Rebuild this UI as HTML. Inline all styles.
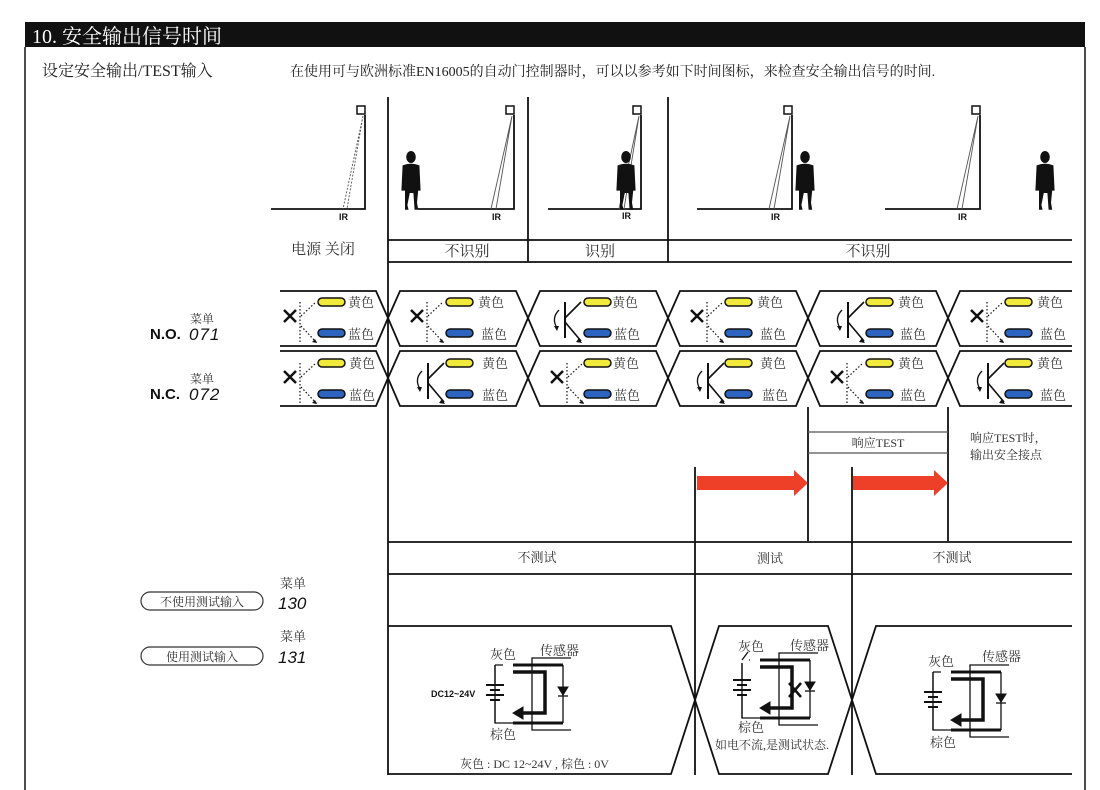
<!DOCTYPE html>
<html><head><meta charset="utf-8"><style>
html,body{margin:0;padding:0;background:#fff;}
svg{display:block;}
.s{font-family:"Liberation Serif","Noto Serif CJK SC",serif;}
.a{font-family:"Liberation Sans","Noto Sans CJK SC",sans-serif;}
</style></head><body>
<svg width="1100" height="790" viewBox="0 0 1100 790" xmlns="http://www.w3.org/2000/svg">
<defs>
<g id="pills">
 <rect x="0" y="-4" width="27" height="8" rx="4" fill="#f2ea3a" stroke="#111" stroke-width="1.5"/>
 <rect x="0" y="27" width="27" height="8" rx="4" fill="#2d64c0" stroke="#111" stroke-width="1.5"/>
</g>
<g id="off">
 <path d="M-6,-6 L6,6 M-6,6 L6,-6" stroke="#111" stroke-width="2.5"/>
 <path d="M10,-14 V26" stroke="#111" stroke-width="1.2" stroke-dasharray="1.5,2"/>
 <path d="M11,0 L26,-14 M11,10 L27,27" stroke="#111" stroke-width="1.2" stroke-dasharray="1.5,2"/>
 <path d="M27,27 l-5,-1 l3,-3z" fill="#111"/>
</g>
<g id="on">
 <path d="M10,-14 V22" stroke="#111" stroke-width="2"/>
 <path d="M10,2 L26,-14 M10,6 L26,25" stroke="#111" stroke-width="1.6"/>
 <path d="M27,27 l-6,-1 l3,-4z" fill="#111"/>
 <path d="M4,-6 Q-4,2 2,12" fill="none" stroke="#111" stroke-width="1.3"/>
 <path d="M2,15 l-3,-5 l5,0z" fill="#111"/>
</g>
<g id="person" fill="#111" transform="scale(1.2)">
 <ellipse cx="0" cy="-40" rx="4" ry="5"/>
 <path d="M-7,-33 Q0,-36 7,-33 L8,-12 L6,-12 L5,-2 L6,4 L3,4 L2,-10 L-1,-10 L-3,0 L-2,4 L-5,4 L-5,-12 L-8,-12 Z"/>
</g>
<g id="circ" fill="none" stroke="#111">
 <path d="M0,0 H8 M0,0 V58 H18" stroke-width="1.3"/>
 <path d="M18,0 H68 M18,58 H68" stroke-width="3"/>
 <path d="M68,0 V58" stroke-width="1.3"/>
 <path d="M63,22 h10 l-5,8z" fill="#111" stroke-width="1"/>
 <path d="M63,31 h10" stroke-width="1.3"/>
 <path d="M76,-7 H37 V65 H76" stroke-width="1.3"/>
 <path d="M18,7 H50 V48 H26" stroke-width="3.5"/>
 <path d="M18,48 l10,-6 v12z" fill="#111" stroke-width="1"/>
 <path d="M-9,20 H9 M-5,25 H5 M-9,30 H9 M-5,35 H5" stroke-width="2"/>
 <path d="M0,0 V20 M0,35 V58" stroke-width="1.3"/>
</g>
</defs>

<rect x="25" y="22" width="1060" height="25" fill="#111"/>
<text x="32" y="43" class="s" font-size="20" fill="#fff">10. 安全输出信号时间</text>
<line x1="25" y1="47" x2="25" y2="790" stroke="#111" stroke-width="1.5"/>
<line x1="1085" y1="47" x2="1085" y2="790" stroke="#111" stroke-width="1.5"/>
<text x="42" y="76" class="s" font-size="16" fill="#222">设定安全输出/TEST输入</text>
<text x="290" y="76" class="s" font-size="14" fill="#222">在使用可与欧洲标准EN16005的自动门控制器时，可以以参考如下时间图标，来检查安全输出信号的时间.</text>

<g stroke="#111" stroke-width="1.8">
<line x1="388" y1="97" x2="388" y2="775"/>
<line x1="528" y1="97" x2="528" y2="262"/>
<line x1="668" y1="97" x2="668" y2="262"/>
<line x1="808" y1="407" x2="808" y2="541"/>
<line x1="948" y1="407" x2="948" y2="541"/>
<line x1="695" y1="467" x2="695" y2="775"/>
<line x1="852" y1="467" x2="852" y2="775"/>
<line x1="388" y1="240" x2="1072" y2="240"/>
<line x1="388" y1="262" x2="1072" y2="262"/>
<line x1="388" y1="542" x2="1072" y2="542"/>
<line x1="388" y1="574" x2="1072" y2="574"/>
</g>
<g stroke="#555" stroke-width="1.3">
<line x1="808" y1="432" x2="948" y2="432"/>
<line x1="808" y1="453" x2="948" y2="453"/>
</g>

<g stroke="#111" stroke-width="1.8" fill="none">
<path d="M271,209 H365 V115"/><rect x="357" y="106" width="8" height="8" stroke-width="1.5"/>
<path d="M418,209 H514 V115"/><rect x="506" y="106" width="8" height="8" stroke-width="1.5"/>
<path d="M548,209 H641 V115"/><rect x="633" y="106" width="8" height="8" stroke-width="1.5"/>
<path d="M697,209 H792 V115"/><rect x="784" y="106" width="8" height="8" stroke-width="1.5"/>
<path d="M885,209 H980 V115"/><rect x="972" y="106" width="8" height="8" stroke-width="1.5"/>
</g>
<g stroke="#555" stroke-width="0.9" fill="none">
<path d="M363,116 L343,209 M363,116 L347,209" stroke-dasharray="2,1.5"/>
<path d="M512,116 L491,209 M512,116 L496,209"/>
<path d="M639,116 L619,209 M639,116 L624,209"/>
<path d="M790,116 L769,209 M790,116 L774,209"/>
<path d="M978,116 L957,209 M978,116 L962,209"/>
</g>
<g class="a" font-size="9" font-weight="bold" fill="#111">
<text x="339" y="220">IR</text><text x="492" y="220">IR</text><text x="622" y="219">IR</text><text x="771" y="220">IR</text><text x="958" y="220">IR</text>
</g>
<use href="#person" x="411" y="205"/>
<use href="#person" x="626" y="205"/>
<use href="#person" x="805" y="205"/>
<use href="#person" x="1045" y="205"/>

<g class="s" font-size="15" fill="#333" text-anchor="middle">
<text x="323" y="254">电源 关闭</text>
<text x="467" y="256">不识别</text>
<text x="600" y="256">识别</text>
<text x="868" y="256">不识别</text>
</g>

<g fill="none" stroke="#111" stroke-width="1.8">
<path d="M280,291 H376 L388,318 L376,346 H280"/>
<path d="M280,351 H376 L388,378 L376,406 H280"/>
<path d="M388,318 L400,291 H516 L528,318 L516,346 H400 Z"/>
<path d="M528,318 L540,291 H656 L668,318 L656,346 H540 Z"/>
<path d="M668,318 L680,291 H796 L808,318 L796,346 H680 Z"/>
<path d="M808,318 L820,291 H936 L948,318 L936,346 H820 Z"/>
<path d="M1072,291 H960 L948,318 L960,346 H1072"/>
<path d="M388,378 L400,351 H516 L528,378 L516,406 H400 Z"/>
<path d="M528,378 L540,351 H656 L668,378 L656,406 H540 Z"/>
<path d="M668,378 L680,351 H796 L808,378 L796,406 H680 Z"/>
<path d="M808,378 L820,351 H936 L948,378 L936,406 H820 Z"/>
<path d="M1072,351 H960 L948,378 L960,406 H1072"/>
</g>
<use href="#off" x="290" y="316"/><use href="#pills" x="318" y="302"/>
<use href="#off" x="417" y="316"/><use href="#pills" x="446" y="302"/>
<use href="#on" x="555" y="316"/><use href="#pills" x="584" y="302"/>
<use href="#off" x="697" y="316"/><use href="#pills" x="725" y="302"/>
<use href="#on" x="838" y="316"/><use href="#pills" x="866" y="302"/>
<use href="#off" x="977" y="316"/><use href="#pills" x="1005" y="302"/>
<use href="#off" x="290" y="377"/><use href="#pills" x="318" y="363"/>
<use href="#on" x="418" y="377"/><use href="#pills" x="446" y="363"/>
<use href="#off" x="557" y="377"/><use href="#pills" x="584" y="363"/>
<use href="#on" x="698" y="377"/><use href="#pills" x="725" y="363"/>
<use href="#off" x="837" y="377"/><use href="#pills" x="866" y="363"/>
<use href="#on" x="978" y="377"/><use href="#pills" x="1005" y="363"/>
<g class="s" font-size="13" fill="#333">
<text x="348" y="307">黄色</text><text x="348" y="339">蓝色</text>
<text x="349" y="368">黄色</text><text x="349" y="400">蓝色</text>
<text x="478" y="307">黄色</text><text x="481" y="339">蓝色</text>
<text x="482" y="368">黄色</text><text x="482" y="400">蓝色</text>
<text x="612" y="307">黄色</text><text x="614" y="339">蓝色</text>
<text x="613" y="368">黄色</text><text x="614" y="400">蓝色</text>
<text x="757" y="307">黄色</text><text x="760" y="339">蓝色</text>
<text x="760" y="368">黄色</text><text x="762" y="400">蓝色</text>
<text x="898" y="307">黄色</text><text x="900" y="339">蓝色</text>
<text x="898" y="368">黄色</text><text x="900" y="400">蓝色</text>
<text x="1037" y="307">黄色</text><text x="1040" y="339">蓝色</text>
<text x="1037" y="368">黄色</text><text x="1040" y="400">蓝色</text>
</g>

<text x="190" y="323" class="s" font-size="12" fill="#333">菜单</text>
<text x="150" y="339" class="a" font-size="15" font-weight="bold" fill="#111">N.O.</text>
<text x="189" y="340" class="a" font-size="17" font-style="italic" fill="#111" letter-spacing="1">071</text>
<text x="190" y="383" class="s" font-size="12" fill="#333">菜单</text>
<text x="150" y="399" class="a" font-size="15" font-weight="bold" fill="#111">N.C.</text>
<text x="189" y="400" class="a" font-size="17" font-style="italic" fill="#111" letter-spacing="1">072</text>

<rect x="141" y="592" width="122" height="18" rx="9" fill="none" stroke="#333" stroke-width="1.2"/>
<text x="202" y="606" class="s" font-size="12" fill="#333" text-anchor="middle">不使用测试输入</text>
<rect x="141" y="647" width="122" height="18" rx="9" fill="none" stroke="#333" stroke-width="1.2"/>
<text x="202" y="661" class="s" font-size="12" fill="#333" text-anchor="middle">使用测试输入</text>
<text x="280" y="588" class="s" font-size="13" fill="#333">菜单</text>
<text x="278" y="609" class="a" font-size="17" font-style="italic" fill="#111">130</text>
<text x="280" y="641" class="s" font-size="13" fill="#333">菜单</text>
<text x="278" y="663" class="a" font-size="17" font-style="italic" fill="#111">131</text>

<text x="878" y="447" class="s" font-size="12" fill="#333" text-anchor="middle">响应TEST</text>
<text x="970" y="442" class="s" font-size="12" fill="#333">响应TEST时，</text>
<text x="970" y="459" class="s" font-size="12" fill="#333">输出安全接点</text>
<path d="M697,476 H794 V470 L808,483 L794,496 V490 H697 Z" fill="#ee4028"/>
<path d="M853,476 H934 V470 L948,483 L934,496 V490 H853 Z" fill="#ee4028"/>
<g class="s" font-size="13" fill="#333" text-anchor="middle">
<text x="537" y="562">不测试</text><text x="770" y="563">测试</text><text x="952" y="562">不测试</text>
</g>

<g fill="none" stroke="#111" stroke-width="1.8">
<path d="M388,626 H671 L695,700 L671,774 H388"/>
<path d="M695,700 L719,626 H828 L852,700 L828,774 H719 Z"/>
<path d="M1072,626 H876 L852,700 L876,774 H1072"/>
</g>
<use href="#circ" x="495" y="665"/>
<use href="#circ" x="742" y="660"/>
<use href="#circ" x="933" y="672"/>
<rect x="735" y="653" width="14" height="10" fill="#fff"/>
<path d="M742,660 L748,652" stroke="#111" stroke-width="1.3"/>
<path d="M789,683 L801,697 M801,683 L789,697" stroke="#111" stroke-width="2.5"/>
<g class="s" font-size="13" fill="#333">
<text x="490" y="659">灰色</text><text x="540" y="655">传感器</text><text x="490" y="739">棕色</text>
<text x="738" y="651">灰色</text><text x="790" y="650">传感器</text><text x="738" y="732">棕色</text>
<text x="928" y="666">灰色</text><text x="982" y="661">传感器</text><text x="930" y="747">棕色</text>
<text x="715" y="749" font-size="12">如电不流,是测试状态.</text>
<text x="460" y="768" font-size="12">灰色 : DC 12~24V , 棕色 : 0V</text>
</g>
<text x="431" y="697" class="a" font-size="9" font-weight="bold" fill="#111">DC12~24V</text>
</svg>
</body></html>
